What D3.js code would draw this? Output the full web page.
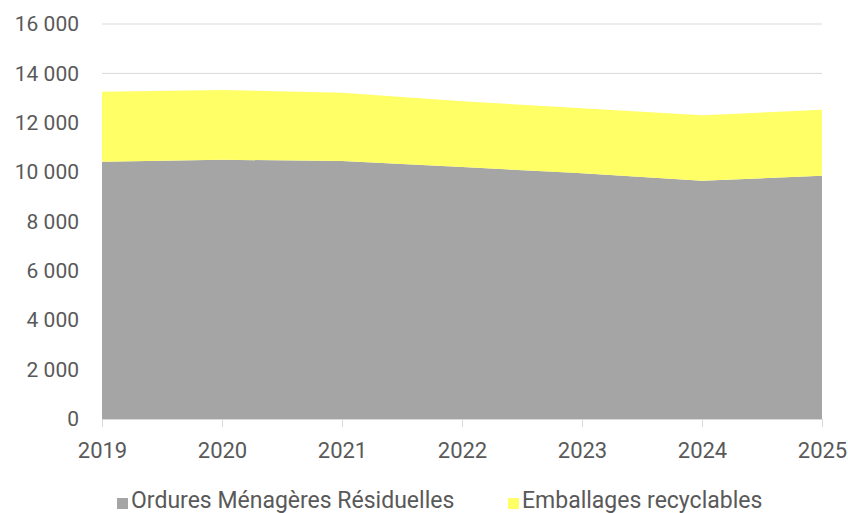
<!DOCTYPE html>
<html lang="fr">
<head>
    <meta charset="UTF-8">
    <title>Tonnages</title>
    <script src="https://cdn.jsdelivr.net/npm/d3@7"></script>
    <style>
        body { margin: 0; background: #fff; }
        text { font-family: Roboto, "Liberation Sans", sans-serif; fill: #595959; }
    </style>
</head>
<body>
<div id="chart"></div>
<script>
    // data
    var years = [2019, 2020, 2021, 2022, 2023, 2024, 2025];
    var omr = [10420, 10500, 10450, 10205, 9950, 9650, 9855];
    var emballages = [2840, 2825, 2765, 2665, 2635, 2650, 2675];
    var yTicks = [0, 2000, 4000, 6000, 8000, 10000, 12000, 14000, 16000];
    var seriesNames = ["Ordures Ménagères Résiduelles", "Emballages recyclables"];
    var colors = ["#a5a5a5", "#ffff66"];

    var width = 848, height = 513;
    var margin = {left: 102, right: 26, top: 24, bottom: 94};

    var svg = d3.select("#chart").append("svg")
            .attr("width", width)
            .attr("height", height);

    var x = d3.scalePoint()
            .domain(years)
            .range([margin.left, width - margin.right]);

    var y = d3.scaleLinear()
            .domain([0, 16000])
            .range([height - margin.bottom, margin.top]);

    var fmt = function (d) {
        return d3.format(",")(d).replace(/,/g, "\u00a0");
    };

    // grid
    svg.append("g").selectAll("line")
            .data(yTicks.slice(1))
            .enter().append("line")
            .attr("x1", margin.left)
            .attr("x2", width - margin.right)
            .attr("y1", function (d) { return y(d); })
            .attr("y2", function (d) { return y(d); })
            .attr("stroke", "#d9d9d9")
            .attr("stroke-width", 1);

    var table = years.map(function (yr, i) {
        return {year: yr, omr: omr[i], emb: emballages[i]};
    });
    var stack = d3.stack().keys(["omr", "emb"])(table);

    var area = d3.area()
            .x(function (d) { return x(d.data.year); })
            .y0(function (d) { return y(d[0]); })
            .y1(function (d) { return y(d[1]); });

    svg.append("g").selectAll("path")
            .data(stack)
            .enter().append("path")
            .attr("d", area)
            .attr("fill", function (d, i) { return colors[i]; });

    // y axis labels
    var yAxis = d3.axisLeft(y).tickValues(yTicks).tickSize(0).tickPadding(23).tickFormat(fmt);
    var gy = svg.append("g")
            .attr("transform", "translate(" + margin.left + ",0)")
            .call(yAxis);
    gy.select(".domain").remove();
    gy.selectAll("text")
            .style("font-size", "21px")
            .attr("fill", "#595959");

    // x axis
    var xAxis = d3.axisBottom(x).tickSize(8).tickPadding(15);
    var gx = svg.append("g")
            .attr("transform", "translate(0," + y(0) + ")")
            .call(xAxis);
    gx.select(".domain").attr("stroke", "#d9d9d9");
    gx.selectAll(".tick line").attr("stroke", "#d9d9d9");
    gx.selectAll("text")
            .style("font-size", "22px")
            .attr("fill", "#595959");

    // legend
    var legendX = [117, 508];
    var legend = svg.append("g").selectAll("g")
            .data(seriesNames)
            .enter().append("g")
            .attr("transform", function (d, i) { return "translate(" + legendX[i] + ",498)"; });
    legend.append("rect")
            .attr("width", 11)
            .attr("height", 11)
            .attr("fill", function (d, i) { return colors[i]; });
    legend.append("text")
            .attr("x", 14)
            .attr("y", 10)
            .style("font-size", "23px")
            .text(function (d) { return d; });
</script>
</body>
</html>
